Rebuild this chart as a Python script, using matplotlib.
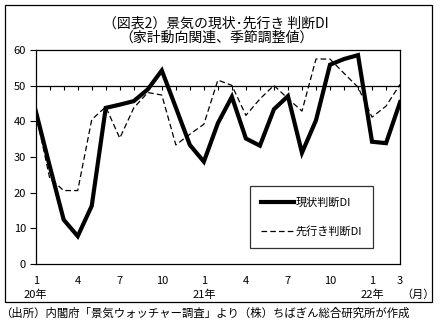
import numpy as np
import matplotlib
matplotlib.use("Agg")
import matplotlib.pyplot as plt
from matplotlib.patches import Rectangle

plt.rcParams['font.family'] = ['Noto Sans CJK JP', 'DejaVu Sans']

# 2020/1 - 2022/3, monthly
months = list(range(27))
genjo = [43.0, 27.5, 12.4, 7.8, 16.3, 43.8, 44.7, 45.7, 49.0, 54.3,
         43.9, 33.4, 28.7, 39.5, 46.9, 35.2, 33.2, 43.4, 47.1, 31.2,
         40.3, 55.9, 57.5, 58.6, 34.3, 33.9, 45.4]
sakiyuki = [42.5, 24.1, 20.6, 20.6, 40.5, 44.1, 35.3, 43.8, 48.1, 47.4,
            33.4, 36.4, 39.2, 51.6, 50.1, 41.7, 46.3, 50.1, 46.4, 42.9,
            57.5, 57.5, 53.5, 49.6, 41.2, 44.3, 50.4]
tick_pos = [0, 3, 6, 9, 12, 15, 18, 21, 24, 26]
tick_lab = ['1', '4', '7', '10', '1', '4', '7', '10', '1', '3']
years = [(0, '20年'), (12, '21年'), (24, '22年')]
cross = 50

fig = plt.figure(figsize=(4.46, 3.27), dpi=100)
ax = fig.add_axes([0.080, 0.1927, 0.817, 0.654])

# outer frame
fig.patches.append(Rectangle((5/446, 1-302/327), 427/446, 297/327,
                             transform=fig.transFigure, fill=False,
                             edgecolor='black', lw=0.9))

ax.plot(months, genjo, color='black', lw=3.0, solid_joinstyle='miter',
        label='現状判断DI', zorder=3)
ax.plot(months, sakiyuki, color='black', lw=0.9, ls=(0, (4.5, 2.5)),
        label='先行き判断DI', zorder=3)

# axis crossing at 50 with month ticks
ax.plot(months, [cross] * len(months), color='black', lw=0.9,
        marker=3, markersize=3, markeredgewidth=0.8, zorder=2)

ax.set_xlim(0, 26)
ax.set_ylim(0, 60)
ax.set_yticks(range(0, 61, 10))
ax.tick_params(axis='y', direction='out', length=4, width=0.8, labelsize=8, pad=3)
ax.set_xticks(tick_pos)
ax.set_xticklabels(tick_lab)
ax.tick_params(axis='x', length=0, labelsize=8, pad=9)
for s in ax.spines.values():
    s.set_linewidth(0.9)

for x, lab in years:
    ax.text(x, -0.145, lab, transform=ax.get_xaxis_transform(),
            ha='center', va='center', fontsize=8)
ax.text(1.05, -0.145, '（月）', transform=ax.transAxes,
        ha='center', va='center', fontsize=8)

fig.text(0.485, 1-24/327, '（図表2）景気の現状･先行き 判断DI', ha='center',
         va='center', fontsize=10)
fig.text(0.485, 1-38/327, '（家計動向関連、季節調整値）', ha='center',
         va='center', fontsize=10)
fig.text(0.0, 1-313/327, '（出所）内閣府「景気ウォッチャー調査」より（株）ちばぎん総合研究所が作成',
         ha='left', va='center', fontsize=8.2)

leg = ax.legend(loc='lower left', bbox_to_anchor=(0.572, 0.051, 0.37, 0.285),
                mode='expand', fontsize=8, frameon=True, fancybox=False,
                edgecolor='black', handlelength=3.0, handletextpad=0.1,
                labelspacing=1.6, borderpad=1.0)
leg.get_frame().set_linewidth(0.9)

fig.savefig('out.png', dpi=100)
